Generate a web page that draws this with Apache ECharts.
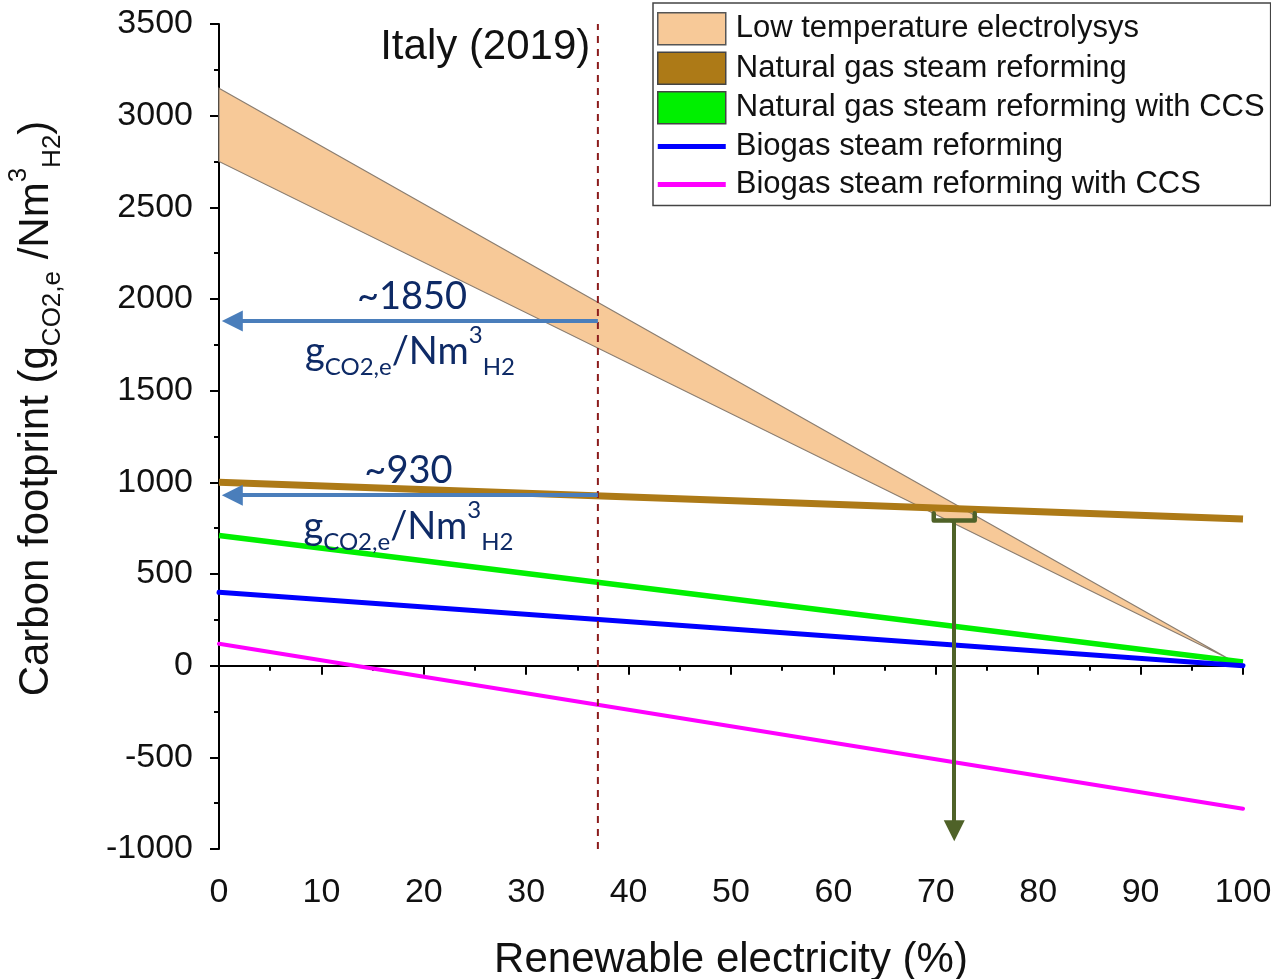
<!DOCTYPE html>
<html>
<head>
<meta charset="utf-8">
<script src="https://cdn.jsdelivr.net/npm/echarts@6/dist/echarts.min.js"></script>
<style>
  html, body { margin: 0; padding: 0; background: #fff; }
  #chart { width: 1271px; height: 979px; }
</style>
</head>
<body>
<div id="chart"></div>
<script>
'use strict';
// renewable share (%) at both ends of each line
var xEnds = [0, 100];
var electrolysisX = [0, 98.5];
var electrolysisLow = [2750, 40];
var electrolysisHigh = [3150, 40];
var ngsr = [1000, 800];
var ngsrCcs = [710, 20];
var biogas = [400, 0];
var biogasCcs = [120, -780];
var zeroLine = [0, 0];

var italyShare = 37;
var readLevels = [1880, 930];
var crossShare = 71.8;
var bracketX = [69.8, 69.8, 73.8, 73.8];
var bracketY = [832, 792, 792, 832];

var names = [
  'Low temperature electrolysys',
  'Natural gas steam reforming',
  'Natural gas steam reforming with CCS',
  'Biogas steam reforming',
  'Biogas steam reforming with CCS'
];

var unitText = '{g|g}{s|CO2,e}{g|/Nm}{p|3}{s|H2}';
var notes = [
  { x: 26, y: 3370, text: '{it|Italy (2019)}' },
  { x: 18.85, y: 2010, text: '{g|~1850}' },
  { x: 18.65, y: 1715, text: unitText },
  { x: 18.5, y: 1065, text: '{g|~930}' },
  { x: 18.5, y: 760, text: unitText }
];

var sans = '"Liberation Sans", Arial, sans-serif';
var noteFont = 'Lato, "Open Sans", sans-serif';
// thick horizontal stroke inside a 68x32 box, for the line legend keys
var lineIcon = 'path://M0,0 L0.01,0 M0,13.5 L68,13.5 L68,18.5 L0,18.5 Z M67.99,32 L68,32';

function zip(xs, ys) {
  return xs.map(function (x, i) { return [x, ys[i]]; });
}

var chart = echarts.init(document.getElementById('chart'));

var axisCommon = {
  type: 'value',
  axisLine: { show: true, lineStyle: { color: '#000', width: 2 } },
  axisTick: { show: true, length: 9, lineStyle: { color: '#000', width: 2 } },
  minorTick: { show: true, splitNumber: 2, length: 5, lineStyle: { color: '#000', width: 2 } },
  splitLine: { show: false },
  axisLabel: {
    fontSize: 34, color: '#111', fontFamily: sans,
    formatter: function (v) { return String(v); }
  }
};

var option = {
  animation: false,
  backgroundColor: '#fff',
  grid: { left: 219, right: 28, top: 24, bottom: 130, containLabel: false, outerBoundsMode: 'none' },
  xAxis: echarts.util.merge({
    min: 0, max: 100, interval: 10,
    name: 'Renewable electricity (%)',
    nameLocation: 'middle',
    nameGap: 90,
    nameTextStyle: { fontSize: 42, color: '#111', fontFamily: sans },
    axisLabel: { margin: 27 }
  }, axisCommon, false),
  yAxis: echarts.util.merge({
    min: -1000, max: 3500, interval: 500,
    name: '{a|Carbon footprint (g}{s|CO2,e}{a| /Nm}{p|3}{s|H2}{a|)}',
    nameLocation: 'middle',
    nameGap: 153,
    nameRotate: 90,
    nameTextStyle: {
      color: '#111',
      padding: [0, 0, 0, 56],
      rich: {
        a: { fontSize: 42, fontFamily: sans, color: '#111', lineHeight: 60 },
        s: { fontSize: 26, fontFamily: sans, color: '#111', verticalAlign: 'bottom' },
        p: { fontSize: 26, fontFamily: sans, color: '#111', verticalAlign: 'top' }
      }
    },
    axisLabel: { margin: 26 }
  }, axisCommon, false),
  legend: {
    left: 653, top: 3,
    orient: 'vertical',
    itemWidth: 68, itemHeight: 32, itemGap: 6,
    padding: [9, 6, 5, 4],
    borderColor: '#444', borderWidth: 1.5,
    backgroundColor: '#fff',
    textStyle: { fontSize: 31, color: '#111', fontFamily: sans, padding: [0, 0, 0, 5] },
    data: [
      { name: names[0], icon: 'rect', itemStyle: { color: '#f7c998', borderColor: '#555', borderWidth: 1.5 } },
      { name: names[1], icon: 'rect', itemStyle: { color: '#ad7a17', borderColor: '#444', borderWidth: 1.5 } },
      { name: names[2], icon: 'rect', itemStyle: { color: '#00f000', borderColor: '#444', borderWidth: 1.5 } },
      { name: names[3], icon: lineIcon, itemStyle: { color: '#0000ff', borderWidth: 0 } },
      { name: names[4], icon: lineIcon, itemStyle: { color: '#ff00ff', borderWidth: 0 } }
    ]
  },
  series: [
    {
      name: names[0], type: 'custom',
      data: [0],
      itemStyle: { color: '#f7c998' },
      renderItem: function (params, api) {
        var pts = zip(electrolysisX, electrolysisHigh)
          .concat(zip(electrolysisX, electrolysisLow).reverse())
          .map(function (p) { return api.coord(p); });
        return {
          type: 'polygon',
          shape: { points: pts },
          style: { fill: '#f7c998', stroke: '#8a7d70', lineWidth: 1.2 }
        };
      }
    },
    {
      name: 'zero', type: 'line', symbol: 'none',
      data: zip(xEnds, zeroLine),
      lineStyle: { color: '#000', width: 1.5 }
    },
    {
      name: names[1], type: 'line', symbol: 'none',
      data: zip(xEnds, ngsr),
      itemStyle: { color: '#ad7a17' },
      lineStyle: { color: '#ad7a17', width: 7 }
    },
    {
      name: names[2], type: 'line', symbol: 'none',
      data: zip(xEnds, ngsrCcs),
      itemStyle: { color: '#00f000' },
      lineStyle: { color: '#00f000', width: 5.5 }
    },
    {
      name: names[3], type: 'line', symbol: 'none',
      data: zip(xEnds, biogas),
      itemStyle: { color: '#0000ff' },
      lineStyle: { color: '#0000ff', width: 5, cap: 'round' }
    },
    {
      name: names[4], type: 'line', symbol: 'none',
      data: zip(xEnds, biogasCcs),
      itemStyle: { color: '#ff00ff' },
      lineStyle: { color: '#ff00ff', width: 4, cap: 'round' }
    },
    {
      name: 'italy', type: 'line', symbol: 'none',
      data: [[italyShare, -1000], [italyShare, 3500]],
      lineStyle: { color: '#8b1c1c', width: 2, type: [7, 6] }
    },
    {
      name: 'bracket', type: 'line', symbol: 'none',
      data: zip(bracketX, bracketY),
      lineStyle: { color: '#4f6228', width: 4.5, join: 'round', cap: 'round' }
    },
    {
      name: 'arrows', type: 'line', data: [], z: 5,
      markLine: {
        silent: true,
        animation: false,
        symbol: ['none', 'triangle'],
        symbolSize: 21,
        label: { show: false },
        data: readLevels.map(function (v) {
          return [
            { coord: [italyShare, v], lineStyle: { color: '#4a7ebb', width: 4, type: 'solid' } },
            { coord: [1.3, v] }
          ];
        }).concat([[
          { coord: [crossShare, 790], lineStyle: { color: '#4f6228', width: 4, type: 'solid' } },
          { coord: [crossShare, -900] }
        ]])
      }
    },
    {
      name: 'notes', type: 'scatter', symbolSize: 0, z: 6,
      itemStyle: { opacity: 0 },
      data: notes.map(function (n) { return { value: [n.x, n.y], text: n.text }; }),
      label: {
        show: true,
        position: 'inside',
        color: '#111',
        textBorderWidth: 0,
        opacity: 1,
        formatter: function (p) { return p.data.text; },
        rich: {
          it: { fontSize: 42, fontFamily: sans, color: '#111', textBorderWidth: 0 },
          g: { fontSize: 38, fontFamily: noteFont, color: '#0e2a66', lineHeight: 56, textBorderWidth: 0 },
          s: { fontSize: 24, fontFamily: noteFont, color: '#0e2a66', verticalAlign: 'bottom', textBorderWidth: 0 },
          p: { fontSize: 24, fontFamily: noteFont, color: '#0e2a66', verticalAlign: 'top', textBorderWidth: 0 }
        }
      }
    }
  ]
};

chart.setOption(option);
</script>
</body>
</html>
